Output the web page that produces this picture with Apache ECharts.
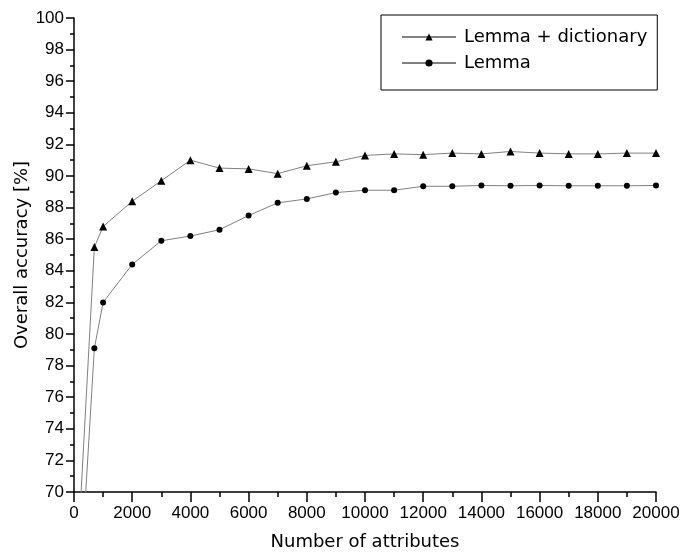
<!DOCTYPE html>
<html>
<head>
<meta charset="utf-8">
<script src="https://cdn.jsdelivr.net/npm/echarts@6/dist/echarts.min.js"></script>
<style>
html,body{margin:0;padding:0;background:#fff;}
#chart{width:683px;height:556px;}
</style>
</head>
<body>
<div id="chart"></div>
<script>
// Data
var attributes = [100, 700, 1000, 2000, 3000, 4000, 5000, 6000, 7000, 8000, 9000, 10000, 11000, 12000, 13000, 14000, 15000, 16000, 17000, 18000, 19000, 20000];
var lemmaDictionary = [65.1, 85.5, 86.8, 88.4, 89.7, 91.0, 90.5, 90.45, 90.15, 90.65, 90.9, 91.3, 91.4, 91.35, 91.45, 91.4, 91.55, 91.45, 91.4, 91.4, 91.45, 91.45];
var lemma = [60.7, 79.1, 82.0, 84.4, 85.9, 86.2, 86.6, 87.5, 88.3, 88.55, 88.95, 89.1, 89.1, 89.35, 89.35, 89.4, 89.38, 89.4, 89.38, 89.38, 89.38, 89.4];
var seriesNames = ['Lemma + dictionary', 'Lemma'];
var xTitle = 'Number of attributes';
var yTitle = 'Overall accuracy [%]';

function pairs(xs, ys) {
  return xs.map(function (x, i) { return [x, ys[i]]; });
}

var chart = echarts.init(document.getElementById('chart'), null, {renderer: 'canvas'});
var tickFont = 'Liberation Sans';
var textFont = 'DejaVu Sans';

chart.setOption({
  backgroundColor: '#ffffff',
  animation: false,
  grid: {left: 74, right: 27, top: 18, bottom: 62, containLabel: false},
  legend: {
    orient: 'vertical',
    left: 381,
    top: 15,
    padding: [13, 10, 18, 20],
    itemGap: 8,
    itemWidth: 54,
    itemHeight: 9,
    borderColor: '#000',
    borderWidth: 1,
    borderRadius: 0,
    textStyle: {fontFamily: textFont, fontSize: 18, color: '#000', padding: [0, 0, 0, 3]},
    data: seriesNames
  },
  xAxis: {
    type: 'value',
    min: 0,
    max: 20000,
    interval: 2000,
    name: xTitle,
    nameLocation: 'middle',
    nameGap: 41,
    nameMoveOverlap: false,
    nameTextStyle: {fontFamily: textFont, fontSize: 18, color: '#000'},
    axisLine: {lineStyle: {color: '#000', width: 1.5}},
    axisTick: {show: true, inside: false, length: 10, lineStyle: {color: '#000', width: 1.5}},
    minorTick: {show: true, splitNumber: 2, length: 5, lineStyle: {color: '#000', width: 1.5}},
    axisLabel: {fontFamily: tickFont, fontSize: 17, color: '#000', margin: 13, formatter: function (v) { return String(v); }},
    splitLine: {show: false},
    minorSplitLine: {show: false}
  },
  yAxis: {
    type: 'value',
    min: 70,
    max: 100,
    interval: 2,
    name: yTitle,
    nameLocation: 'middle',
    nameGap: 43,
    nameMoveOverlap: false,
    nameTextStyle: {fontFamily: textFont, fontSize: 18, color: '#000'},
    axisLine: {show: true, lineStyle: {color: '#000', width: 1.5}},
    axisTick: {show: true, inside: false, length: 8, lineStyle: {color: '#000', width: 1.5}},
    minorTick: {show: true, splitNumber: 2, length: 4, lineStyle: {color: '#000', width: 1.5}},
    axisLabel: {fontFamily: tickFont, fontSize: 17, color: '#000', margin: 10},
    splitLine: {show: false},
    minorSplitLine: {show: false}
  },
  series: [
    {
      name: seriesNames[0],
      type: 'line',
      data: pairs(attributes, lemmaDictionary),
      symbol: 'triangle',
      symbolSize: 8,
      showAllSymbol: true,
      clip: true,
      itemStyle: {color: '#000'},
      lineStyle: {color: '#808080', width: 1}
    },
    {
      name: seriesNames[1],
      type: 'line',
      data: pairs(attributes, lemma),
      symbol: 'circle',
      symbolSize: 6,
      showAllSymbol: true,
      clip: true,
      itemStyle: {color: '#000'},
      lineStyle: {color: '#808080', width: 1}
    }
  ]
});
</script>
</body>
</html>
